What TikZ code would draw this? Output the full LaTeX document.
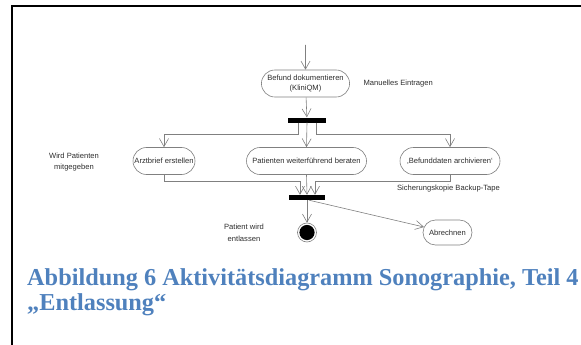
\documentclass[tikz,border=0pt]{standalone}
\usepackage{fontspec}
\setmainfont{Liberation Serif}
\newfontfamily\diafont{Liberation Sans}
\usetikzlibrary{arrows.meta,shapes.misc}
\definecolor{capblue}{RGB}{79,129,189}
\definecolor{linegray}{RGB}{128,128,128}
\definecolor{labelgray}{RGB}{45,45,45}

\begin{document}
\begin{tikzpicture}[x=1pt,y=-1pt,
  act/.style={draw=linegray, line width=0.6pt, rounded rectangle, fill=white,
    font=\diafont\fontsize{7.6}{9.5}\selectfont, text=labelgray,
    minimum height=27pt, inner xsep=3pt, inner ysep=2pt, align=center},
  syncbar/.style={fill=black, inner sep=0pt, minimum height=5pt},
  flow/.style={draw=linegray, line width=0.6pt, -{Straight Barb[length=8pt,width=9pt]}},
  note/.style={font=\diafont\fontsize{7.6}{11.5}\selectfont, text=labelgray, align=center},
  caption/.style={font=\bfseries\fontsize{24.3}{27}\selectfont, text=capblue, anchor=base west, inner sep=0pt}
]
\useasboundingbox (0,0) rectangle (581,345);

% page frame (top and left edge)
\coordinate (frameBL) at (12,345);
\coordinate (frameTL) at (12,6.5);
\coordinate (frameTR) at (581,6.5);
\draw[line width=2pt] (frameBL) -- (frameTL) -- (frameTR);

% activities
\coordinate (start) at (305.5,45);
\node[act, minimum width=88pt] (befund) at (305.5,83.5) {Befund dokumentieren\\(KliniQM)};
\node[syncbar, minimum width=38pt] (fork) at (307,120) {};
\node[act, minimum width=68pt] (arzt) at (164,161) {Arztbrief erstellen};
\node[act, minimum width=126pt] (beraten) at (306.5,161) {Patienten weiterführend beraten};
\node[act, minimum width=106pt] (archiv) at (450,161) {‚Befunddaten archivieren‘};
\node[syncbar, minimum width=36pt] (join) at (307,197.5) {};
\node[circle, draw=linegray, line width=0.6pt, fill=white, minimum size=19pt, inner sep=0pt] (end) at (307,232.5) {};
\fill[black] (end.center) circle (7.6pt);
\node[act, minimum width=55pt, minimum height=25pt] (abr) at (447.5,232.5) {Abrechnen};

% annotations
\node[note, anchor=west] (manu) at (360,84) {Manuelles Eintragen};
\node[note] (wird) at (74,162) {Wird Patienten\\mitgegeben};
\node[note] (sich) at (448.5,189) {Sicherungskopie Backup-Tape};
\node[note] (pat) at (244,233) {Patient wird\\entlassen};

% control flow
\draw[flow] (start) -- (befund);
\draw[flow] (befund) -- (fork);
\draw[flow] ([xshift=-9pt]fork.south) -- ++(0,12) -| (arzt.north);
\draw[flow] (fork.south) -- (beraten.north);
\draw[flow] ([xshift=9pt]fork.south) -- ++(0,12) -| (archiv.north);
\draw[flow] (arzt.south) -- ++(0,6.5) -| ([xshift=-7pt]join.north);
\draw[flow] (beraten.south) -- (join.north);
\draw[flow] (archiv.south) -- ++(0,6.5) -| ([xshift=8pt]join.north);
\draw[flow] (join.south) -- (end.north);
\draw[flow] ([xshift=2pt]join.south) -- (abr);

% caption
\node[caption] (cap1) at (27,285) {Abbildung 6 Aktivitätsdiagramm Sonographie, Teil 4};
\node[caption] (cap2) at (27,310) {„Entlassung“};
\end{tikzpicture}
\end{document}
